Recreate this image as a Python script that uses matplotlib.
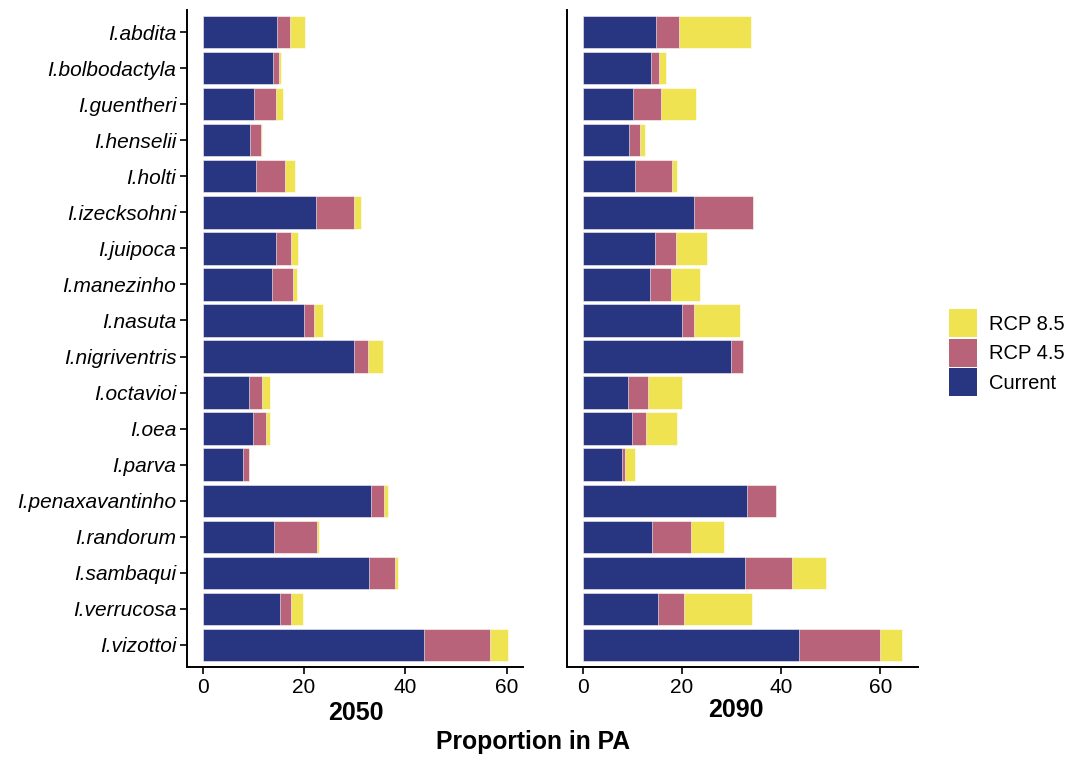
import matplotlib.pyplot as plt
from matplotlib.patches import Patch

plt.rcParams['font.family'] = ['Liberation Sans', 'DejaVu Sans']

species = ['I.abdita', 'I.bolbodactyla', 'I.guentheri', 'I.henselii', 'I.holti',
           'I.izecksohni', 'I.juipoca', 'I.manezinho', 'I.nasuta', 'I.nigriventris',
           'I.octavioi', 'I.oea', 'I.parva', 'I.penaxavantinho', 'I.randorum',
           'I.sambaqui', 'I.verrucosa', 'I.vizottoi']

# proportion of range inside protected areas (bars overlap, drawn from zero)
current = [14.7, 13.8, 10.1, 9.3, 10.6, 22.4, 14.5, 13.6, 20.0, 29.8,
           9.1, 10.0, 7.9, 33.2, 14.0, 32.8, 15.2, 43.6]

rcp45_2050 = [17.2, 15.0, 14.5, 11.6, 16.3, 29.8, 17.4, 17.8, 22.0, 32.7,
              11.8, 12.4, 9.1, 35.7, 22.5, 37.9, 17.5, 56.8]
rcp85_2050 = [20.1, 15.5, 15.8, 11.8, 18.2, 31.3, 18.9, 18.6, 23.7, 35.6,
              13.2, 13.2, 9.1, 36.6, 22.9, 38.5, 19.8, 60.3]

rcp45_2090 = [19.4, 15.3, 15.7, 11.6, 17.9, 34.4, 18.7, 17.7, 22.4, 32.3,
              13.2, 12.8, 8.5, 39.0, 21.8, 42.1, 20.4, 59.9]
rcp85_2090 = [34.0, 16.8, 22.8, 12.5, 18.9, 34.4, 25.1, 23.6, 31.8, 32.3,
              20.0, 19.0, 10.5, 39.0, 28.5, 49.0, 34.1, 64.4]

col_cur = '#283581'
col_45 = '#B9637B'
col_85 = '#EFE352'

fig = plt.figure(figsize=(10.73, 7.57), dpi=100)
ax1 = fig.add_axes([0.1747, 0.1194, 0.3131, 0.8669])
ax2 = fig.add_axes([0.5284, 0.1194, 0.3271, 0.8669])

ypos = list(range(len(species)))


def panel(ax, r45, r85, title):
    for vals, c in [(r85, col_85), (r45, col_45), (current, col_cur)]:
        ax.barh(ypos, vals, height=0.9, color=c, edgecolor='white', linewidth=0.4)
    top = max(r85)
    ax.set_xlim(-0.05 * top, 1.05 * top)
    ax.set_ylim(len(species) - 0.4, -0.6)
    ax.set_xticks([0, 20, 40, 60])
    ax.tick_params(axis='x', labelsize=15, length=5, width=1.2, colors='black', pad=3)
    for s in ['top', 'right']:
        ax.spines[s].set_visible(False)
    for s in ['left', 'bottom']:
        ax.spines[s].set_linewidth(1.4)
    ax.set_xlabel(title, fontsize=18, fontweight='bold')


panel(ax1, rcp45_2050, rcp85_2050, '2050')
panel(ax2, rcp45_2090, rcp85_2090, '2090')
ax1.xaxis.set_label_coords(0.5, -0.053)
ax2.xaxis.set_label_coords(0.48, -0.048)

ax1.set_yticks(ypos)
ax1.set_yticklabels(species, fontsize=15, style='italic')
ax1.tick_params(axis='y', length=5, width=1.2, pad=3)
ax2.set_yticks([])

fig.text(0.497, 0.0198, 'Proportion in PA', fontsize=17.8, fontweight='bold',
         ha='center', va='center')

handles = [Patch(facecolor=col_85, label='RCP 8.5'),
           Patch(facecolor=col_45, label='RCP 4.5'),
           Patch(facecolor=col_cur, label='Current')]
fig.legend(handles=handles, loc='center left', bbox_to_anchor=(0.884, 0.534),
           frameon=False, fontsize=14.5, handlelength=1.4, handleheight=1.75,
           handletextpad=0.6, labelspacing=0.08, borderpad=0, borderaxespad=0)

fig.savefig('out.png', dpi=100)
